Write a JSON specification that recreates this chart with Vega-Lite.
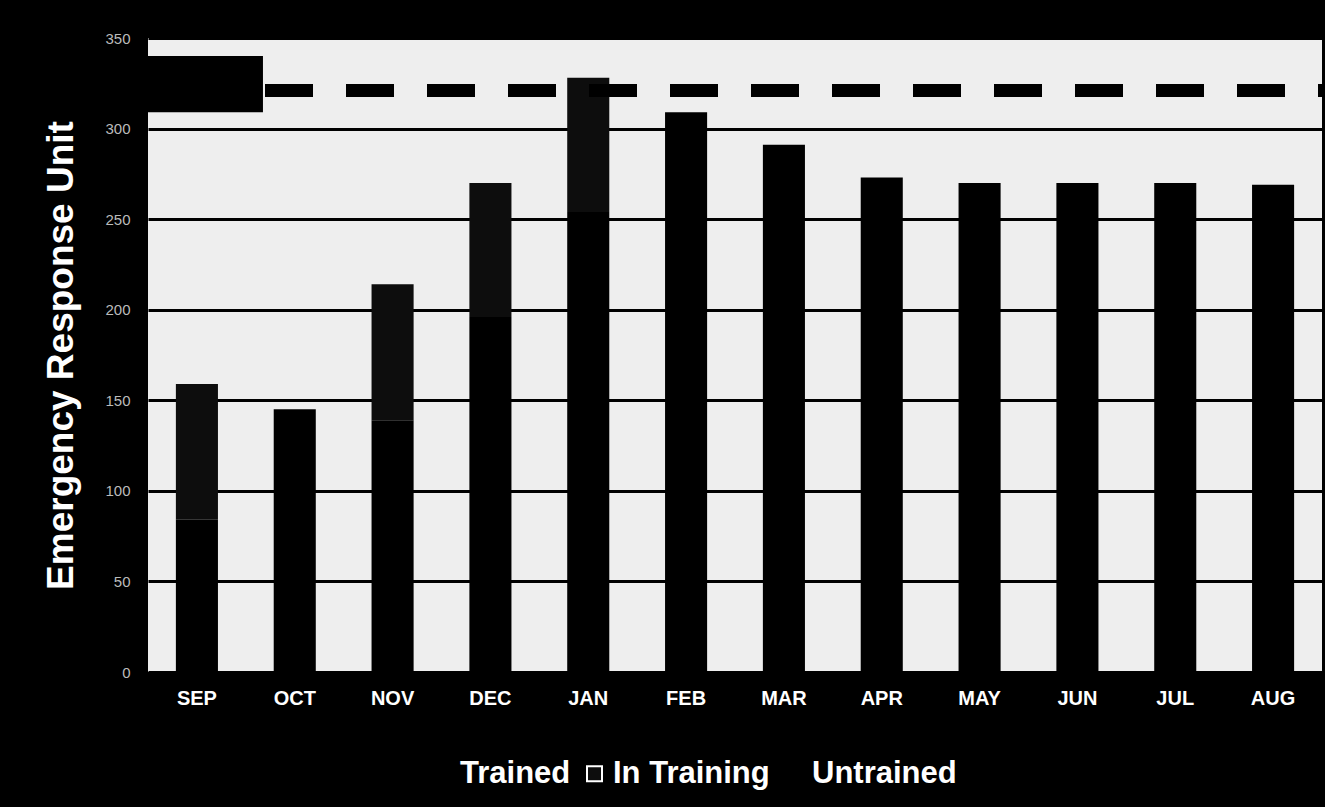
{
  "$schema": "https://vega.github.io/schema/vega-lite/v6.json",
  "width": 1174,
  "height": 634,
  "autosize": {"type": "none"},
  "padding": {"left": 148, "top": 38, "right": 3, "bottom": 135},
  "background": "#000000",
  "config": {
    "view": {"fill": "#eeeeee", "stroke": null},
    "font": "Liberation Sans"
  },
  "datasets": {
    "units": [
      {"month": "SEP", "status": "Trained", "count": 84},
      {"month": "SEP", "status": "In Training", "count": 75},
      {"month": "OCT", "status": "Trained", "count": 145},
      {"month": "NOV", "status": "Trained", "count": 139},
      {"month": "NOV", "status": "In Training", "count": 75},
      {"month": "DEC", "status": "Trained", "count": 196},
      {"month": "DEC", "status": "In Training", "count": 74},
      {"month": "JAN", "status": "Trained", "count": 254},
      {"month": "JAN", "status": "In Training", "count": 74},
      {"month": "FEB", "status": "Trained", "count": 309},
      {"month": "MAR", "status": "Trained", "count": 291},
      {"month": "APR", "status": "Trained", "count": 273},
      {"month": "MAY", "status": "Trained", "count": 270},
      {"month": "JUN", "status": "Trained", "count": 270},
      {"month": "JUL", "status": "Trained", "count": 270},
      {"month": "AUG", "status": "Trained", "count": 269}
    ],
    "goal": [{"target": 321}],
    "box": [{"month": "SEP", "lo": 309, "hi": 340}]
  },
  "layer": [
    {
      "data": {"name": "units"},
      "mark": {"type": "bar", "strokeWidth": 0},
      "encoding": {
        "x": {
          "field": "month",
          "type": "nominal",
          "scale": {"domain": ["SEP", "OCT", "NOV", "DEC", "JAN", "FEB", "MAR", "APR", "MAY", "JUN", "JUL", "AUG"], "paddingInner": 0.57, "paddingOuter": 0.285},
          "axis": {
            "title": null,
            "labelAngle": 0,
            "labelColor": "#ffffff",
            "labelFontSize": 20,
            "labelFontWeight": "bold",
            "labelPadding": 16,
            "ticks": false,
            "domain": false
          }
        },
        "y": {
          "field": "count",
          "type": "quantitative",
          "aggregate": "sum",
          "stack": "zero",
          "scale": {"domain": [0, 350], "nice": false},
          "axis": {
            "title": "Emergency Response Unit",
            "titleColor": "#ffffff",
            "titleFontSize": 37,
            "titleFontWeight": "bold",
            "titlePadding": 24,
            "values": [0, 50, 100, 150, 200, 250, 300, 350],
            "labelColor": "#bbbbbb",
            "labelFontSize": 15,
            "labelPadding": 18,
            "ticks": false,
            "domain": false,
            "grid": true,
            "gridColor": "#000000",
            "gridWidth": 3,
            "gridOpacity": 1
          }
        },
        "color": {
          "field": "status",
          "type": "nominal",
          "scale": {"domain": ["Trained", "In Training", "Untrained"], "range": ["#000000", "#0d0d0d", "#000000"]},
          "legend": {
            "title": null,
            "orient": "none",
            "legendX": 278,
            "legendY": 720,
            "direction": "horizontal",
            "labelColor": "#ffffff",
            "labelFontSize": 31,
            "labelFontWeight": "bold",
            "symbolType": "square",
            "symbolSize": 225,
            "symbolStrokeWidth": 2,
            "labelOffset": 3,
            "columnPadding": 8
          }
        },
        "stroke": {
          "field": "status",
          "type": "nominal",
          "scale": {"domain": ["Trained", "In Training", "Untrained"], "range": ["#000000", "#ffffff", "#000000"]},
          "legend": {
            "title": null,
            "orient": "none",
            "legendX": 278,
            "legendY": 720,
            "direction": "horizontal",
            "labelColor": "#ffffff",
            "labelFontSize": 31,
            "labelFontWeight": "bold",
            "symbolType": "square",
            "symbolSize": 225,
            "symbolStrokeWidth": 2,
            "labelOffset": 3,
            "columnPadding": 8
          }
        },
        "order": {"field": "status", "sort": "descending"}
      }
    },
    {
      "data": {"name": "goal"},
      "mark": {"type": "rule", "color": "#000000", "strokeWidth": 13, "strokeDash": [48, 33], "strokeDashOffset": 44},
      "encoding": {"y": {"field": "target", "type": "quantitative"}}
    },
    {
      "data": {"name": "box"},
      "mark": {"type": "bar", "color": "#000000", "width": {"band": 3.14}},
      "encoding": {
        "x": {"field": "month", "type": "nominal"},
        "y": {"field": "lo", "type": "quantitative"},
        "y2": {"field": "hi"}
      }
    }
  ]
}
